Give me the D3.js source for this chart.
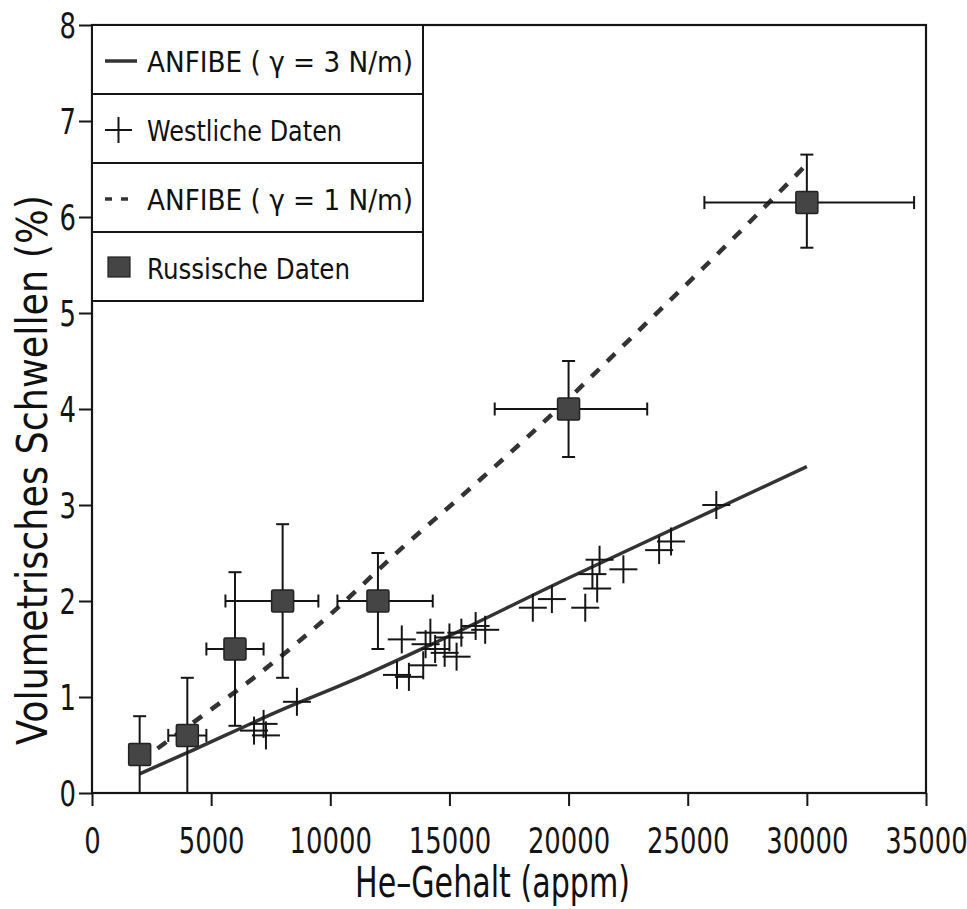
<!DOCTYPE html>
<html>
<head>
<meta charset="utf-8">
<script src="https://cdn.jsdelivr.net/npm/d3@7/dist/d3.min.js"></script>
<style>
  body { margin: 0; background: #fff; }
  svg { display: block; }
  text { font-family: "DejaVu Sans", "Liberation Sans", sans-serif; fill: #111; }
</style>
</head>
<body>
<svg id="chart" width="967" height="909"></svg>
<script>
// ANFIBE model curves
const anfibe3X = [2000, 4000, 8000, 11000, 14000, 20000, 25000, 30000];
const anfibe3Y = [0.2, 0.42, 0.87, 1.18, 1.52, 2.24, 2.82, 3.4];
const anfibe1X = [2000, 4500, 7000, 10000, 13000, 16000, 19200, 23000, 26600, 30000];
const anfibe1Y = [0.33, 0.78, 1.24, 1.86, 2.55, 3.2, 3.92, 4.83, 5.7, 6.55];

// Westliche Daten (plus markers)
const westX = [6800, 7200, 7300, 8600, 12800, 13000, 13300, 13900, 14000, 14200, 14400, 14800, 15000, 15300, 15500,
  16100, 16500, 18500, 19300, 20700, 21000, 21200, 21300, 22300, 23800, 24300, 26200];
const westY = [0.65, 0.72, 0.6, 0.95, 1.23, 1.6, 1.21, 1.33, 1.55, 1.67, 1.5, 1.46, 1.62, 1.42, 1.67,
  1.74, 1.7, 1.93, 2.02, 1.93, 2.28, 2.13, 2.43, 2.33, 2.53, 2.62, 3.0];

// Russische Daten (squares with error bars)
const russX = [2000, 4000, 6000, 8000, 12000, 20000, 30000];
const russY = [0.4, 0.6, 1.5, 2.0, 2.0, 4.0, 6.15];
const russXLow = [2000, 3200, 4800, 5600, 10300, 16900, 25700];
const russXHigh = [2000, 4800, 7200, 9500, 14300, 23300, 34500];
const russYLow = [0, 0, 0.7, 1.2, 1.5, 3.5, 5.68];
const russYHigh = [0.8, 1.2, 2.3, 2.8, 2.5, 4.5, 6.65];

const xTicks = [0, 5000, 10000, 15000, 20000, 25000, 30000, 35000];
const yTicks = [0, 1, 2, 3, 4, 5, 6, 7, 8];

const legendLabels = ["ANFIBE ( \u03B3 = 3 N/m)", "Westliche Daten", "ANFIBE ( \u03B3 = 1 N/m)", "Russische Daten"];
const legendWidths = [266, 195, 266, 203];

const plot = {left: 92, right: 926, top: 25, bottom: 793};
const squeeze = 0.74; // the original lettering is a narrow plotter font

const svg = d3.select('#chart');

const x = d3.scaleLinear().domain([0, 35000]).range([plot.left, plot.right]);
const y = d3.scaleLinear().domain([0, 8]).range([plot.bottom, plot.top]);

const ink = '#151515';

// axes
const xAxis = svg.append('g')
    .attr('transform', `translate(0,${plot.bottom})`)
    .call(d3.axisBottom(x).tickValues(xTicks).tickFormat(d3.format('d')).tickSize(13).tickPadding(22));
const yAxis = svg.append('g')
    .attr('transform', `translate(${plot.left},0)`)
    .call(d3.axisLeft(y).tickValues(yTicks).tickSize(13).tickPadding(3));

[xAxis, yAxis].forEach(a => {
  a.select('.domain').remove();
  a.selectAll('line').attr('stroke', ink).attr('stroke-width', 2);
  a.selectAll('text').attr('font-size', 35).style('fill', ink)
      .attr('transform', `scale(${squeeze},1)`);
});
yAxis.selectAll('text').attr('dy', '0.36em').attr('x', -16 / squeeze);

// frame
svg.append('rect')
    .attr('x', plot.left).attr('y', plot.top)
    .attr('width', plot.right - plot.left).attr('height', plot.bottom - plot.top)
    .attr('fill', 'none').attr('stroke', ink).attr('stroke-width', 2.2);

// axis titles
svg.append('text')
    .attr('x', 355).attr('y', 897)
    .attr('font-size', 43)
    .attr('textLength', 275).attr('lengthAdjust', 'spacingAndGlyphs')
    .text('He\u2013Gehalt (appm)');
svg.append('text')
    .attr('transform', 'translate(47,745) rotate(-90)')
    .attr('font-size', 42)
    .attr('textLength', 550).attr('lengthAdjust', 'spacingAndGlyphs')
    .text('Volumetrisches Schwellen (%)');

// model lines
const line = d3.line().x(d => x(d[0])).y(d => y(d[1])).curve(d3.curveMonotoneX);
svg.append('path')
    .datum(anfibe3X.map((v, i) => [v, anfibe3Y[i]]))
    .attr('d', line)
    .attr('fill', 'none').attr('stroke', '#333').attr('stroke-width', 3.5);
svg.append('path')
    .datum(anfibe1X.map((v, i) => [v, anfibe1Y[i]]))
    .attr('d', line)
    .attr('fill', 'none').attr('stroke', '#333').attr('stroke-width', 4.5)
    .attr('stroke-dasharray', '11,11');

// western data
const crossHalf = 14;
const west = svg.append('g').attr('stroke', ink).attr('stroke-width', 2);
westX.forEach((v, i) => {
  const cx = x(v), cy = y(westY[i]);
  west.append('line').attr('x1', cx - crossHalf).attr('x2', cx + crossHalf).attr('y1', cy).attr('y2', cy);
  west.append('line').attr('x1', cx).attr('x2', cx).attr('y1', cy - crossHalf).attr('y2', cy + crossHalf);
});

// russian data
const cap = 6.5;
const russ = svg.append('g');
russX.forEach((v, i) => {
  const cx = x(v), cy = y(russY[i]);
  const g = russ.append('g').attr('stroke', ink).attr('stroke-width', 2);
  g.append('line').attr('x1', cx).attr('x2', cx).attr('y1', y(russYLow[i])).attr('y2', y(russYHigh[i]));
  g.append('line').attr('x1', cx - cap).attr('x2', cx + cap).attr('y1', y(russYHigh[i])).attr('y2', y(russYHigh[i]));
  if (russYLow[i] > 0) {
    g.append('line').attr('x1', cx - cap).attr('x2', cx + cap).attr('y1', y(russYLow[i])).attr('y2', y(russYLow[i]));
  }
  if (russXHigh[i] > russXLow[i]) {
    g.append('line').attr('x1', x(russXLow[i])).attr('x2', x(russXHigh[i])).attr('y1', cy).attr('y2', cy);
    g.append('line').attr('x1', x(russXLow[i])).attr('x2', x(russXLow[i])).attr('y1', cy - cap).attr('y2', cy + cap);
    g.append('line').attr('x1', x(russXHigh[i])).attr('x2', x(russXHigh[i])).attr('y1', cy - cap).attr('y2', cy + cap);
  }
  russ.append('rect')
      .attr('x', cx - 11).attr('y', cy - 11).attr('width', 22).attr('height', 22)
      .attr('rx', 1.5)
      .attr('fill', '#454545').attr('stroke', '#222').attr('stroke-width', 1.5);
});

// legend
const legendTop = plot.top, rowH = 69, legendRight = 423;
const legend = svg.append('g');
legend.append('rect')
    .attr('x', plot.left).attr('y', legendTop)
    .attr('width', legendRight - plot.left).attr('height', rowH * 4)
    .attr('fill', '#fff').attr('stroke', ink).attr('stroke-width', 2);
legendLabels.forEach((lab, i) => {
  const top = legendTop + rowH * i;
  if (i > 0) {
    legend.append('line').attr('x1', plot.left).attr('x2', legendRight)
        .attr('y1', top).attr('y2', top).attr('stroke', ink).attr('stroke-width', 2);
  }
  const my = top + 36;
  if (i === 0) {
    legend.append('line').attr('x1', 105).attr('x2', 137).attr('y1', my).attr('y2', my)
        .attr('stroke', '#333').attr('stroke-width', 3.5);
  } else if (i === 1) {
    legend.append('line').attr('x1', 105).attr('x2', 132).attr('y1', my).attr('y2', my).attr('stroke', ink).attr('stroke-width', 2);
    legend.append('line').attr('x1', 118.5).attr('x2', 118.5).attr('y1', my - 13).attr('y2', my + 13).attr('stroke', ink).attr('stroke-width', 2);
  } else if (i === 2) {
    legend.append('line').attr('x1', 105).attr('x2', 132).attr('y1', my).attr('y2', my)
        .attr('stroke', '#333').attr('stroke-width', 3.5).attr('stroke-dasharray', '7,9');
  } else {
    legend.append('rect').attr('x', 108).attr('y', my - 11).attr('width', 22).attr('height', 20)
        .attr('fill', '#454545').attr('stroke', '#222').attr('stroke-width', 1.2);
  }
  legend.append('text')
      .attr('x', 147).attr('y', top + 47)
      .attr('font-size', 29)
      .attr('textLength', legendWidths[i]).attr('lengthAdjust', 'spacingAndGlyphs')
      .text(lab);
});
</script>
</body>
</html>
